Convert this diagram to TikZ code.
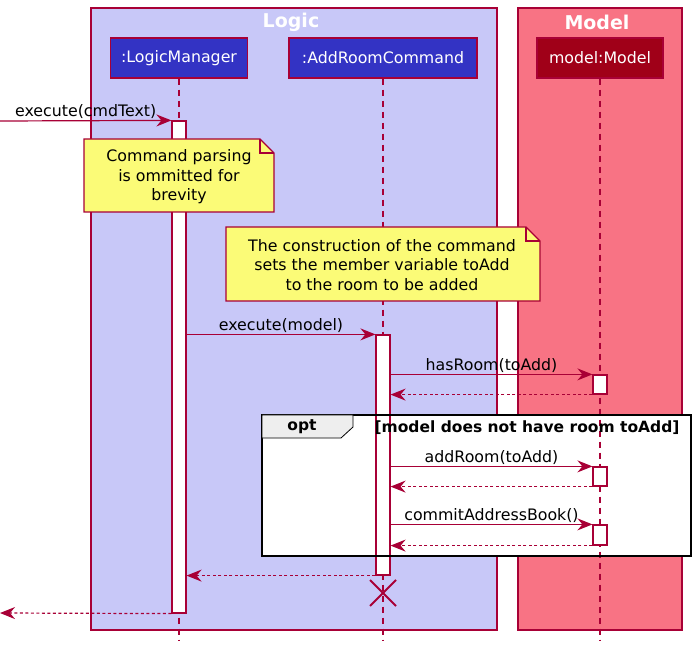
\documentclass[tikz,border=0pt]{standalone}
\usepackage{fontspec}
\setmainfont{DejaVu Sans}
\usetikzlibrary{arrows.meta}

\definecolor{umlred}{HTML}{A80036}
\definecolor{logicbg}{HTML}{C8C8F8}
\definecolor{modelbg}{HTML}{F87384}
\definecolor{logicblue}{HTML}{3333C4}
\definecolor{modeldark}{HTML}{A00018}
\definecolor{noteyellow}{HTML}{FBFB77}
\definecolor{tabgrey}{HTML}{EEEEEE}

\tikzset{
  lifeline/.style={umlred, line width=1.3pt, dash pattern=on 6pt off 5pt},
  actor/.style={draw=umlred, line width=1.4pt, text=white, minimum height=40pt, inner sep=0pt},
  bar/.style={draw=umlred, fill=white, line width=1.2pt, inner sep=0pt, minimum width=14pt},
  call/.style={umlred, line width=1.2pt, -{Stealth[length=15pt,width=12pt,inset=5pt]}},
  reply/.style={call, dash pattern=on 3pt off 2.5pt},
  memo/.style={draw=umlred, fill=noteyellow, line width=1.2pt},
  lbl/.style={above, inner sep=1.5pt, text=black},
}

\begin{document}
\begin{tikzpicture}[x=1pt, y=-1pt, font=\fontsize{15.8}{19.5}\selectfont]
  \useasboundingbox (0,0) rectangle (697,647);

  \draw[umlred, line width=1.4pt, fill=logicbg] (91,8) rectangle (497,630);
  \draw[umlred, line width=1.4pt, fill=modelbg] (518,8) rectangle (682,630);
  \node[text=white, font=\fontsize{19}{22}\selectfont\bfseries] (logic) at (291,22) {Logic};
  \node[text=white, font=\fontsize{19}{22}\selectfont\bfseries] (model) at (597,22) {Model};

  \node[actor, fill=logicblue, minimum width=137pt] (lm) at (179,58) {:LogicManager};
  \node[actor, fill=logicblue, minimum width=188pt] (cmd) at (383,58) {:AddRoomCommand};
  \node[actor, fill=modeldark, minimum width=126pt] (mdl) at (600,58) {model:Model};

  \fill[white] (262,415) rectangle (691,556);

  \draw[lifeline] (lm.south) -- ++(0,562) coordinate (lmend);
  \draw[lifeline] (cmd.south) -- ++(0,562) coordinate (cmdend);
  \draw[lifeline] (mdl.south) -- ++(0,562) coordinate (mdlend);

  \node[bar, minimum height=492pt] (lmbar) at (179,367) {};
  \node[bar, minimum height=240pt] (cmdbar) at (383,455) {};
  \node[bar, minimum height=19pt] (mbar1) at (600,384.5) {};
  \node[bar, minimum height=19pt] (mbar2) at (600,476.5) {};
  \node[bar, minimum height=20pt] (mbar3) at (600,535) {};

  \draw[memo] (84,139) -- (260,139) -- (274,153) -- (274,212) -- (84,212) -- cycle;
  \draw[umlred, line width=1.2pt] (260,139) |- (274,153);
  \node[align=center] (note1) at (179,177) {Command parsing\\is ommitted for\\brevity};

  \draw[memo] (226,227) -- (526,227) -- (540,241) -- (540,301) -- (226,301) -- cycle;
  \draw[umlred, line width=1.2pt] (526,227) |- (540,241);
  \node[align=center] (note2) at (382,265) {The construction of the command\\sets the member variable toAdd\\to the room to be added};

  \coordinate (src) at (0,121);
  \coordinate (snk) at (0,613);
  \draw[call] (src) -- node[lbl] {execute(cmdText)} (lmbar.north west);
  \draw[call] (lmbar.east |- cmdbar.north) -- node[lbl] {execute(model)} (cmdbar.north west);
  \draw[call] (cmdbar.east |- mbar1.north) -- node[lbl] {hasRoom(toAdd)} (mbar1.north west);
  \draw[reply] (mbar1.south west) -- (cmdbar.east |- mbar1.south);
  \draw[call] (cmdbar.east |- mbar2.north) -- node[lbl] {addRoom(toAdd)} (mbar2.north west);
  \draw[reply] (mbar2.south west) -- (cmdbar.east |- mbar2.south);
  \draw[call] (cmdbar.east |- mbar3.north) -- node[lbl] {commitAddressBook()} (mbar3.north west);
  \draw[reply] (mbar3.south west) -- (cmdbar.east |- mbar3.south);
  \draw[reply] (cmdbar.south west) -- (lmbar.east |- cmdbar.south);
  \draw[reply] (lmbar.south west) -- (snk);

  \coordinate (kill) at (383,593);
  \draw[umlred, line width=2pt] (kill) +(-13,-13) -- +(13,13) (kill) +(-13,13) -- +(13,-13);

  \draw[line width=2.5pt] (262,415) rectangle (691,556);
  \draw[line width=0.8pt, fill=tabgrey] (262,415) -- (353,415) -- (353,427) -- (341,438) -- (262,438) -- cycle;
  \node[font=\fontsize{15.5}{19}\selectfont\bfseries] (opt) at (302,427) {opt};
  \node[font=\fontsize{15.5}{19}\selectfont\bfseries] (guard) at (527,428) {[model does not have room toAdd]};
\end{tikzpicture}
\end{document}
